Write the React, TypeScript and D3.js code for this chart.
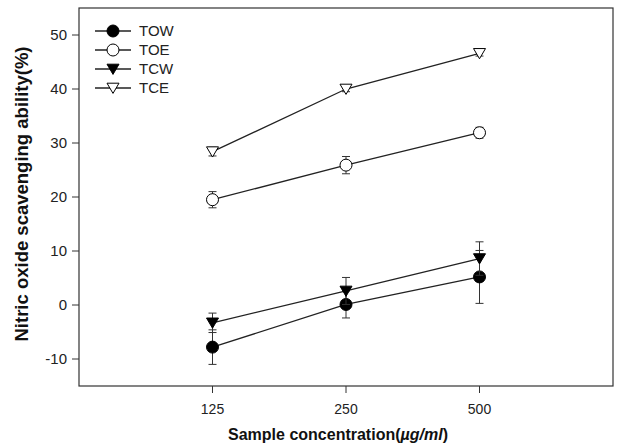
import React from 'react';
import * as d3 from 'd3';

// concentrations (ug/ml)
const concentrations = ['125', '250', '500'];
const yTicks = [-10, 0, 10, 20, 30, 40, 50];

// scavenging ability (%) and error bars
const towValues = [-7.8, 0.1, 5.2];
const towErrors = [3.2, 2.5, 4.9];
const toeValues = [19.5, 25.9, 31.9];
const toeErrors = [1.5, 1.6, 1.0];
const tcwValues = [-3.3, 2.6, 8.6];
const tcwErrors = [1.8, 2.5, 3.1];
const tceValues = [28.4, 40.0, 46.6];
const tceErrors = [0.8, 0.5, 0.5];

const seriesNames = ['TOW', 'TOE', 'TCW', 'TCE'];

const series = [
  { name: seriesNames[0], values: towValues, errors: towErrors, shape: 'circle', fill: '#000' },
  { name: seriesNames[1], values: toeValues, errors: toeErrors, shape: 'circle', fill: '#fff' },
  { name: seriesNames[2], values: tcwValues, errors: tcwErrors, shape: 'triangle', fill: '#000' },
  { name: seriesNames[3], values: tceValues, errors: tceErrors, shape: 'triangle', fill: '#fff' },
];

const width = 617;
const height = 447;
const margin = { top: 8, right: 4, bottom: 61, left: 79 };

const Marker = ({ shape, fill, x, y }: { shape: string; fill: string; x: number; y: number }) => {
  if (shape === 'circle') {
    return <circle cx={x} cy={y} r={6} fill={fill} stroke="#000" strokeWidth={1} />;
  }
  const s = 6;
  const tri = d3.path();
  tri.moveTo(x - s, y - s * 0.8);
  tri.lineTo(x + s, y - s * 0.8);
  tri.lineTo(x, y + s * 0.9);
  tri.closePath();
  return <path d={tri.toString()} fill={fill} stroke="#000" strokeWidth={1} />;
};

const App = () => {
  const x = d3
    .scaleLinear()
    .domain([0, concentrations.length + 1])
    .range([margin.left, width - margin.right]);

  const y = d3
    .scaleLinear()
    .domain([-15, 55])
    .range([height - margin.bottom, margin.top]);

  const line = d3
    .line<number>()
    .x((_, i) => x(i + 1))
    .y(d => y(d));

  const font = 'Arial, "Liberation Sans", Helvetica, sans-serif';
  const axisColor = '#333';

  return (
    <svg width={width} height={height} style={{ position: 'absolute', left: 0, top: 0 }} fontFamily={font}>
      {/* frame */}
      <rect
        x={margin.left}
        y={margin.top}
        width={width - margin.left - margin.right}
        height={height - margin.top - margin.bottom}
        fill="none"
        stroke={axisColor}
        strokeWidth={1.2}
      />

      {/* y axis ticks */}
      {yTicks.map(t => (
        <g key={t}>
          <line x1={margin.left - 7} x2={margin.left} y1={y(t)} y2={y(t)} stroke={axisColor} />
          <text x={margin.left - 12} y={y(t)} dy="0.35em" textAnchor="end" fontSize={15} fill="#222">
            {t}
          </text>
        </g>
      ))}

      {/* x axis ticks */}
      {concentrations.map((c, i) => (
        <g key={c}>
          <line
            x1={x(i + 1)}
            x2={x(i + 1)}
            y1={height - margin.bottom}
            y2={height - margin.bottom + 7}
            stroke={axisColor}
          />
          <text x={x(i + 1)} y={height - margin.bottom + 28} textAnchor="middle" fontSize={14} fill="#222">
            {c}
          </text>
        </g>
      ))}

      {/* axis titles */}
      <text
        x={x(2) - 8}
        y={height - 7}
        textAnchor="middle"
        fontSize={16}
        fontWeight="bold"
        fill="#111"
      >
        Sample concentration(<tspan fontStyle="italic">µg/ml</tspan>)
      </text>
      <text
        transform={`translate(28,194) rotate(-90)`}
        textAnchor="middle"
        fontSize={18.5}
        fontWeight="bold"
        fill="#111"
      >
        Nitric oxide scavenging ability(%)
      </text>

      {/* series */}
      {series.map(s => (
        <g key={s.name}>
          <path d={line(s.values) || ''} fill="none" stroke="#222" strokeWidth={1.3} />
          {s.values.map((v, i) => {
            const cx = x(i + 1);
            const lo = y(v - s.errors[i]);
            const hi = y(v + s.errors[i]);
            return (
              <g key={i} stroke="#333" strokeWidth={1}>
                <line x1={cx} x2={cx} y1={lo} y2={hi} />
                <line x1={cx - 4} x2={cx + 4} y1={lo} y2={lo} />
                <line x1={cx - 4} x2={cx + 4} y1={hi} y2={hi} />
              </g>
            );
          })}
          {s.values.map((v, i) => (
            <Marker key={i} shape={s.shape} fill={s.fill} x={x(i + 1)} y={y(v)} />
          ))}
        </g>
      ))}

      {/* legend */}
      {series.map((s, i) => {
        const ly = 31 + i * 19;
        return (
          <g key={s.name}>
            <line x1={95} x2={131} y1={ly} y2={ly} stroke="#222" strokeWidth={1.3} />
            <Marker shape={s.shape} fill={s.fill} x={113} y={ly} />
            <text x={139} y={ly} dy="0.35em" fontSize={15} fill="#222">
              {s.name}
            </text>
          </g>
        );
      })}
    </svg>
  );
};

export default App;
